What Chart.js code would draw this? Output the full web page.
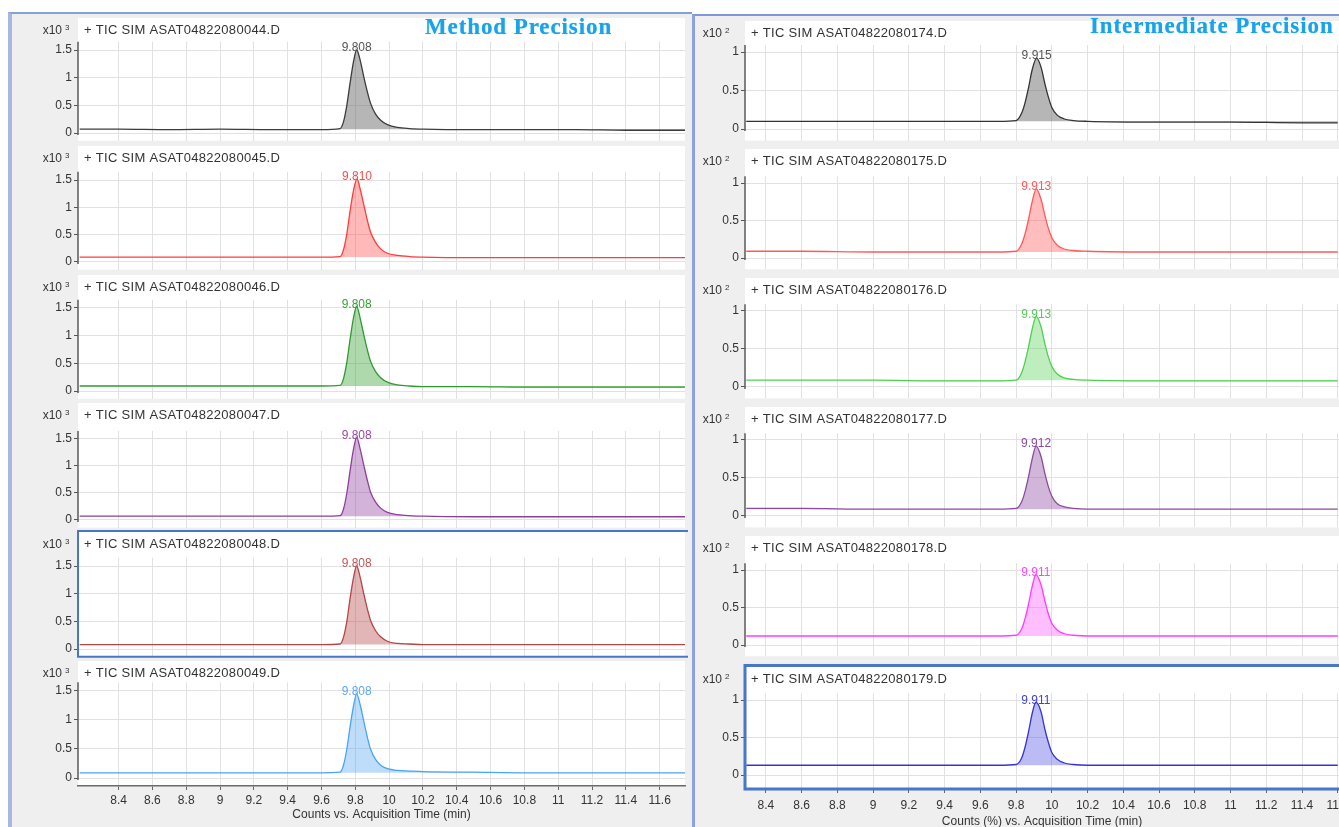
<!DOCTYPE html>
<html>
<head>
<meta charset="utf-8">
<title>TIC SIM chromatograms - precision</title>
<script src="https://cdn.jsdelivr.net/npm/chart.js@4.4.1/dist/chart.umd.min.js"></script>
<style>
  html, body { margin:0; padding:0; background:#fff; width:1339px; height:827px; overflow:hidden; }
  body { position:relative; font-family:"Liberation Sans", Arial, sans-serif; }
  .panel { position:absolute; background:#efefef; box-sizing:border-box; }
  #panelLeft { left:8px; top:12px; width:684px; height:815px; border-left:4px solid #a8b6e2; border-top:2px solid #86a0d8; }
  #panelRight { left:692px; top:14px; width:647px; height:813px; border-left:3px solid #8ea3dc; border-top:2px solid #7e9ad6; }
  canvas.cell { position:absolute; }
  .heading { position:absolute; font-family:"Liberation Serif", "Times New Roman", serif; font-weight:bold;
             font-size:23px; letter-spacing:0.9px; color:#1aa2ea; white-space:nowrap; line-height:1;
             text-shadow:0 0 1px rgba(26,162,234,0.6); }
</style>
</head>
<body>
<div class="panel" id="panelLeft"></div>
<div class="panel" id="panelRight"></div>
<div id="cells"></div>
<div class="heading" style="left:425px; top:15px;">Method Precision</div>
<div class="heading" style="left:1090px; top:14px;">Intermediate Precision</div>
<script>
// ---- axis ticks ----
const timeTicks = [8.4, 8.6, 8.8, 9, 9.2, 9.4, 9.6, 9.8, 10, 10.2, 10.4, 10.6, 10.8, 11, 11.2, 11.4, 11.6];
const leftCountTicks = [0, 0.5, 1, 1.5];   // x10^3
const rightCountTicks = [0, 0.5, 1];       // x10^2

// ---- data files ----
const leftFiles = ['044', '045', '046', '047', '048', '049'];
const rightFiles = ['174', '175', '176', '177', '178', '179'];

// ---- sampled acquisition times (min), apex point added per trace ----
const leftTimes = [8.17, 8.4, 8.7, 9.0, 9.3, 9.6, 9.71, 9.73, 9.75, 9.77, 9.79,
                   9.83, 9.85, 9.87, 9.89, 9.92, 9.95, 9.99, 10.05, 10.12, 10.2,
                   10.5, 10.8, 11.1, 11.4, 11.75];
const rightTimes = [8.29, 8.6, 9.0, 9.4, 9.7, 9.80, 9.83, 9.85, 9.87, 9.89,
                    9.94, 9.96, 9.98, 10.0, 10.03, 10.07, 10.12, 10.2, 10.6, 11.0, 11.4, 11.6];

// ---- retention time, apex height and baseline of each peak ----
const leftRT = [9.808, 9.810, 9.808, 9.808, 9.808, 9.808];
const leftApex = [1.50, 1.52, 1.53, 1.53, 1.50, 1.45];
const leftBase = [0.07, 0.09, 0.09, 0.07, 0.08, 0.09];
const rightRT = [9.915, 9.913, 9.913, 9.912, 9.911, 9.911];
const rightApex = [0.92, 0.92, 0.93, 0.92, 0.94, 0.97];
const rightBase = [0.10, 0.08, 0.09, 0.09, 0.12, 0.13];

// ---- counts (method precision, x10^3) ----
const counts044 = [0.07,0.07,0.06,0.07,0.06,0.06, 0.08,0.20,0.50,0.92,1.30, 1.30,1.02,0.76,0.54,0.34,0.23,0.15,0.10,0.08,0.07, 0.06,0.06,0.06,0.05,0.05];
const counts045 = [0.09,0.09,0.09,0.09,0.09,0.09, 0.10,0.22,0.52,0.95,1.32, 1.32,1.05,0.78,0.55,0.36,0.24,0.16,0.12,0.10,0.09, 0.08,0.08,0.08,0.08,0.08];
const counts046 = [0.09,0.09,0.09,0.09,0.09,0.09, 0.10,0.22,0.52,0.95,1.33, 1.30,1.02,0.76,0.54,0.35,0.24,0.16,0.11,0.09,0.08, 0.08,0.07,0.07,0.07,0.07];
const counts047 = [0.07,0.07,0.07,0.07,0.07,0.07, 0.08,0.20,0.50,0.93,1.32, 1.30,1.02,0.75,0.52,0.33,0.22,0.14,0.10,0.08,0.07, 0.06,0.06,0.06,0.06,0.06];
const counts048 = [0.08,0.08,0.08,0.08,0.08,0.08, 0.09,0.21,0.50,0.93,1.30, 1.28,1.00,0.74,0.52,0.33,0.22,0.14,0.10,0.09,0.08, 0.08,0.08,0.08,0.08,0.08];
const counts049 = [0.09,0.09,0.09,0.09,0.09,0.09, 0.10,0.22,0.50,0.90,1.25, 1.25,0.98,0.72,0.50,0.32,0.22,0.16,0.13,0.12,0.11, 0.10,0.09,0.09,0.09,0.09];

// ---- counts (intermediate precision, x10^2) ----
const counts174 = [0.10,0.10,0.10,0.10,0.10, 0.11,0.20,0.34,0.54,0.77, 0.80,0.60,0.42,0.28,0.18,0.13,0.11,0.10,0.09,0.09,0.08,0.08];
const counts175 = [0.09,0.09,0.08,0.08,0.08, 0.09,0.18,0.32,0.52,0.75, 0.78,0.58,0.40,0.27,0.17,0.12,0.10,0.09,0.08,0.08,0.08,0.08];
const counts176 = [0.09,0.09,0.09,0.08,0.08, 0.09,0.18,0.33,0.53,0.76, 0.79,0.58,0.40,0.27,0.17,0.12,0.10,0.09,0.08,0.08,0.08,0.08];
const counts177 = [0.10,0.10,0.09,0.09,0.09, 0.10,0.18,0.32,0.52,0.75, 0.78,0.57,0.39,0.26,0.16,0.12,0.10,0.09,0.09,0.09,0.09,0.09];
const counts178 = [0.12,0.12,0.12,0.12,0.12, 0.13,0.21,0.35,0.55,0.78, 0.80,0.60,0.42,0.29,0.20,0.15,0.13,0.12,0.12,0.12,0.12,0.12];
const counts179 = [0.13,0.13,0.13,0.13,0.13, 0.14,0.22,0.37,0.58,0.82, 0.84,0.62,0.44,0.30,0.21,0.16,0.14,0.13,0.13,0.13,0.13,0.13];

const leftCounts = [counts044, counts045, counts046, counts047, counts048, counts049];
const rightCounts = [counts174, counts175, counts176, counts177, counts178, counts179];

// ---- trace colours ----
const leftStyles = [
  { line: '#3c3c3c', fill: 'rgba(110,110,110,0.50)', label: '#555555' },
  { line: '#ff3b3b', fill: 'rgba(255,70,70,0.38)',   label: '#ff4a4a' },
  { line: '#2f9a2f', fill: 'rgba(60,165,60,0.42)',   label: '#3a9e3a' },
  { line: '#8e3f9e', fill: 'rgba(150,75,165,0.42)',  label: '#9a4aa8' },
  { line: '#b34545', fill: 'rgba(185,80,80,0.42)',   label: '#c05858' },
  { line: '#4aa3f5', fill: 'rgba(85,165,245,0.38)',  label: '#5aaaf5' }
];
const rightStyles = [
  { line: '#333333', fill: 'rgba(110,110,110,0.50)', label: '#555555' },
  { line: '#ff5a5a', fill: 'rgba(255,90,90,0.40)',   label: '#ff5a5a' },
  { line: '#4fcf4f', fill: 'rgba(85,210,85,0.38)',   label: '#55cc55' },
  { line: '#8a4a9e', fill: 'rgba(145,80,165,0.42)',  label: '#8e4aa0' },
  { line: '#ff3cff', fill: 'rgba(255,75,255,0.36)',  label: '#ff44ff' },
  { line: '#3434d8', fill: 'rgba(70,70,225,0.36)',   label: '#4040dd' }
];

// ---- layout of the two stacks (page pixels) ----
const columns = {
  left: {
    left: 12, width: 676, axisW: 66, padRight: 3, expX: 50,
    xMin: 8.16, xMax: 11.75, yMin: -0.14, yMax: 1.65, topTick: 1.5,
    yTicks: leftCountTicks, exp: '3', files: leftFiles, times: leftTimes,
    rt: leftRT, apex: leftApex, base: leftBase, counts: leftCounts, styles: leftStyles,
    xTitle: 'Counts vs. Acquisition Time (min)',
    rowTop: [18, 146, 275, 403, 530, 661],
    headerY: [30, 158, 287, 415, 544, 673],
    yTopPx: [50, 180, 308, 439, 566, 691],
    yZeroPx: [133, 262, 391, 520, 649, 778],
    axisLinePx: 786, pageBottom: 827, tickPad: 3,
    selected: 4, selectedWidth: 2
  },
  right: {
    left: 695, width: 644, axisW: 50, padRight: 0, expX: 27,
    xMin: 8.283, xMax: 11.607, yMin: -0.15, yMax: 1.09, topTick: 1,
    yTicks: rightCountTicks, exp: '2', files: rightFiles, times: rightTimes,
    rt: rightRT, apex: rightApex, base: rightBase, counts: rightCounts, styles: rightStyles,
    xTitle: 'Counts (%) vs. Acquisition Time (min)',
    rowTop: [21, 149, 278, 407, 536, 664],
    headerY: [33, 161, 290, 419, 548, 679],
    yTopPx: [52, 183, 311, 440, 570, 700],
    yZeroPx: [129, 258, 387, 516, 645, 775],
    axisLinePx: 789, pageBottom: 834, tickPad: 5,
    selected: 5, selectedWidth: 3
  }
};

const FONT = '"Liberation Sans", Arial, sans-serif';

function tracePoints(times, counts, rt, apex) {
  const pts = times.map((t, k) => ({ x: t, y: counts[k] }));
  pts.push({ x: rt, y: apex });
  pts.sort((a, b) => a.x - b.x);
  return pts;
}

// white plot panel, axis line, file header, exponent, peak label, selection frame
const cellDecor = {
  id: 'cellDecor',
  beforeDraw(chart) {
    const { ctx, chartArea: a } = chart;
    ctx.save();
    ctx.fillStyle = '#ffffff';
    ctx.fillRect(a.left, 0, a.right - a.left, a.bottom);
    ctx.restore();
  },
  afterDraw(chart, args, o) {
    const { ctx, chartArea: a, scales: { x, y } } = chart;
    ctx.save();
    ctx.strokeStyle = '#5a5a5a';
    ctx.lineWidth = 1.5;
    ctx.beginPath();
    ctx.moveTo(a.left, a.top);
    ctx.lineTo(a.left, y.getPixelForValue(0) + 2);
    ctx.stroke();

    ctx.fillStyle = '#333';
    ctx.textBaseline = 'middle';
    ctx.textAlign = 'left';
    ctx.font = '13px ' + FONT;
    ctx.letterSpacing = '0.3px';
    ctx.fillText('+ TIC SIM ASAT04822080' + o.file + '.D', a.left + 6, o.headerY);
    ctx.letterSpacing = '0px';
    ctx.font = '12px ' + FONT;
    ctx.textAlign = 'right';
    ctx.fillText('x10', o.expX, o.headerY + 1);
    ctx.textAlign = 'left';
    ctx.font = '8px ' + FONT;
    ctx.fillText(o.exp, o.expX + 3, o.headerY - 2);

    const px = x.getPixelForValue(o.rt);
    const py = y.getPixelForValue(o.apex);
    ctx.fillStyle = o.labelColor;
    ctx.textAlign = 'center';
    ctx.font = '12px ' + FONT;
    ctx.fillText(o.rt.toFixed(3), px, py - 2);

    if (o.frame) {
      ctx.strokeStyle = '#4677c8';
      ctx.lineWidth = o.frame;
      ctx.strokeRect(a.left, o.frame / 2, a.right - a.left + 8, a.bottom - o.frame / 2);
    }
    ctx.restore();
  }
};

function buildCell(col, i) {
  const last = i === 5;
  const top = col.rowTop[i];
  const ppu = (col.yZeroPx[i] - col.yTopPx[i]) / col.topTick;
  const areaTop = col.yTopPx[i] - (col.yMax - col.topTick) * ppu - top;
  const yMin = last ? -(col.axisLinePx - col.yZeroPx[i]) / ppu : col.yMin;
  const areaBottom = col.yZeroPx[i] - yMin * ppu - top;
  const height = last ? col.pageBottom - top : Math.ceil(areaBottom) + 1;
  const xAxisH = height - areaBottom;

  const canvas = document.createElement('canvas');
  canvas.className = 'cell';
  canvas.width = col.width;
  canvas.height = height;
  canvas.style.left = col.left + 'px';
  canvas.style.top = top + 'px';
  document.getElementById('cells').appendChild(canvas);

  const st = col.styles[i];
  new Chart(canvas, {
    type: 'line',
    data: {
      datasets: [{
        data: tracePoints(col.times, col.counts[i], col.rt[i], col.apex[i]),
        borderColor: st.line,
        backgroundColor: st.fill,
        borderWidth: 1.3,
        fill: { value: col.base[i] },
        pointRadius: 0,
        cubicInterpolationMode: 'monotone'
      }]
    },
    options: {
      responsive: false,
      animation: false,
      events: [],
      layout: { padding: { top: areaTop, left: 0, right: col.padRight, bottom: 0 } },
      plugins: {
        legend: { display: false },
        tooltip: { enabled: false },
        cellDecor: {
          file: col.files[i], exp: col.exp, expX: col.expX, headerY: col.headerY[i] - top,
          rt: col.rt[i], apex: col.apex[i], labelColor: st.label,
          frame: col.selected === i ? col.selectedWidth : 0
        }
      },
      scales: {
        x: {
          type: 'linear', min: col.xMin, max: col.xMax,
          afterBuildTicks: s => { s.ticks = timeTicks.map(v => ({ value: v })); },
          afterFit: s => { s.height = xAxisH; s.paddingLeft = 0; s.paddingRight = 0; },
          grid: { color: '#e1e1e1', lineWidth: 1, drawTicks: last, tickLength: 4, tickColor: '#666' },
          border: { display: last, color: '#6a6a6a', width: 1.5 },
          ticks: { display: last, autoSkip: false, maxRotation: 0, padding: col.tickPad, color: '#333',
                   font: { size: 12, family: FONT }, callback: v => String(v) },
          title: { display: last, text: col.xTitle, color: '#333',
                   font: { size: 12, family: FONT }, padding: { top: 0, bottom: 5 } }
        },
        y: {
          type: 'linear', min: last ? yMin : col.yMin, max: col.yMax,
          afterBuildTicks: s => { s.ticks = col.yTicks.map(v => ({ value: v })); },
          afterFit: s => { s.width = col.axisW; s.paddingTop = 0; s.paddingBottom = 0; },
          grid: { color: '#e1e1e1', drawTicks: true, tickLength: 4, tickColor: '#555' },
          border: { display: false },
          ticks: { color: '#333', padding: 2, font: { size: 12, family: FONT }, callback: v => String(v) }
        }
      }
    },
    plugins: [cellDecor]
  });
}

for (let i = 0; i < 6; i++) {
  buildCell(columns.left, i);
  buildCell(columns.right, i);
}
</script>
</body>
</html>
